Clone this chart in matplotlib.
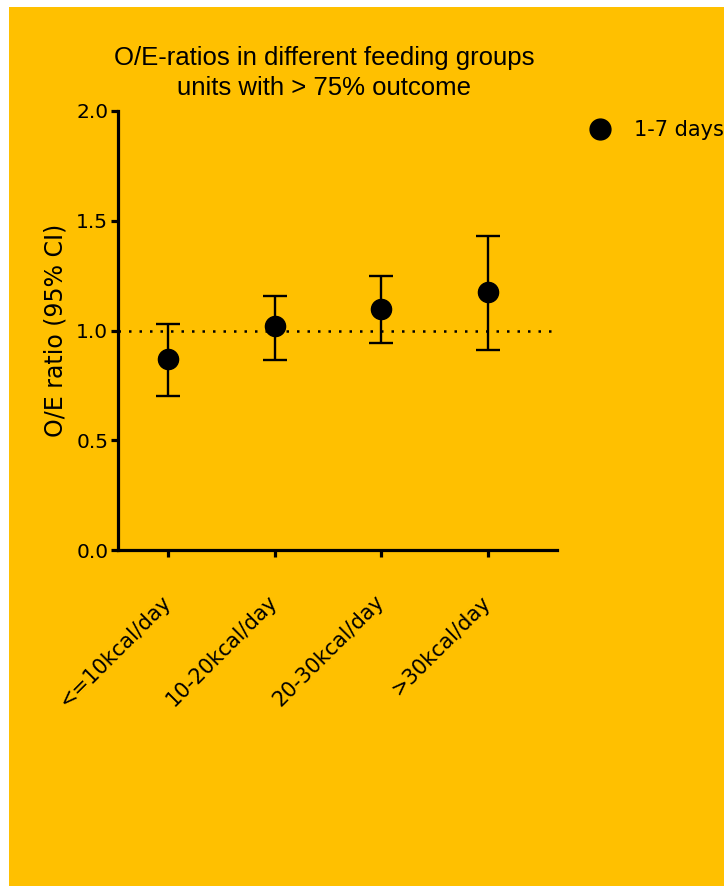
import numpy as np
import matplotlib
matplotlib.use("Agg")
import matplotlib.pyplot as plt
from matplotlib.patches import Rectangle
from matplotlib.lines import Line2D

# feeding groups and O/E ratios with 95% CI
groups = ["<=10kcal/day", "10-20kcal/day", "20-30kcal/day", ">30kcal/day"]
oe_ratio = [0.87, 1.02, 1.10, 1.175]
ci_low = [0.70, 0.865, 0.942, 0.911]
ci_high = [1.031, 1.157, 1.247, 1.431]
yticks = [0.0, 0.5, 1.0, 1.5, 2.0]

gold = "#FFC000"
fig = plt.figure(figsize=(7.24, 8.86), dpi=100, facecolor="white")
fig.patches.append(Rectangle((9 / 724, 0), 1, 1 - 7 / 886, transform=fig.transFigure,
                             facecolor=gold, edgecolor="none", zorder=-10))

ax = fig.add_axes([118 / 724, 1 - 550 / 886, (557 - 118) / 724, (550 - 111) / 886])
ax.set_facecolor("none")

x = np.arange(len(groups))
y = np.array(oe_ratio)
err = [y - np.array(ci_low), np.array(ci_high) - y]

ax.axhline(1.0, color="black", lw=1.8, ls=(0, (1, 3.2)), zorder=1)
ax.errorbar(x, y, yerr=err, fmt="o", color="black", ms=14.5, elinewidth=1.7,
            capsize=8.5, capthick=1.7, zorder=3, clip_on=False)

ax.set_ylim(0, 2.0)
ax.set_xlim(-0.47, 3.65)
ax.set_yticks(yticks)
ax.set_yticklabels([f"{v:.1f}" for v in yticks])
ax.set_xticks(x)
ax.set_xticklabels(groups, rotation=45, ha="right", va="center", rotation_mode="anchor")

for side in ["top", "right"]:
    ax.spines[side].set_visible(False)
for side in ["left", "bottom"]:
    ax.spines[side].set_linewidth(2.3)

ax.tick_params(axis="y", length=5, width=2.3, labelsize=14.5, pad=2)
ax.tick_params(axis="x", length=5, width=2.3, labelsize=15, pad=30)

ax.set_ylabel("O/E ratio (95% CI)", fontsize=17, labelpad=6)
ax.text(0.47, 1.026, "O/E-ratios in different feeding groups\nunits with > 75% outcome",
        transform=ax.transAxes, ha="center", va="bottom", fontsize=18.5,
        family="Liberation Sans", linespacing=1.3)

marker = Line2D([], [], marker="o", ls="none", color="black", ms=15)
ax.legend([marker], ["1-7 days"], loc="center left", bbox_to_anchor=(1.05, 0.956),
          frameon=False, fontsize=15, handletextpad=1.05, borderaxespad=0,
          handlelength=1.2)

fig.savefig("out.png", dpi=100, facecolor="white")
